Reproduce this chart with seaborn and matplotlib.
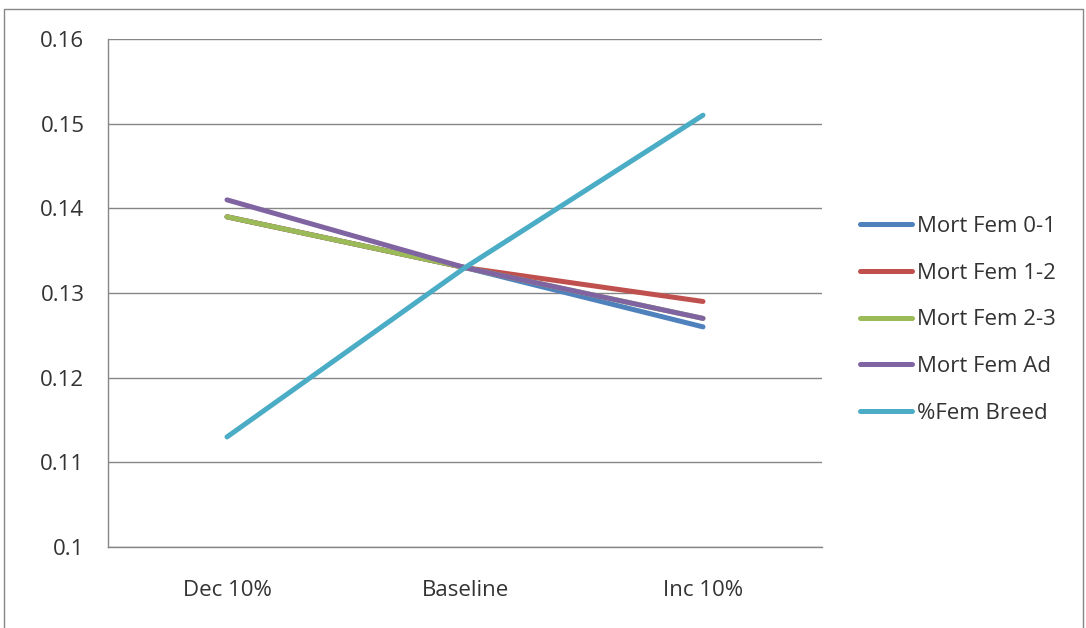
import numpy as np
import pandas as pd
import seaborn as sns
import matplotlib.pyplot as plt
from matplotlib.patches import Rectangle

# Data
scenarios = ['Dec 10%', 'Baseline', 'Inc 10%']
mort_fem_0_1 = [0.139, 0.133, 0.126]
mort_fem_1_2 = [0.139, 0.133, 0.129]
mort_fem_2_3 = [0.139, 0.133, 0.127]
mort_fem_ad = [0.141, 0.133, 0.127]
fem_breed = [0.113, 0.133, 0.151]

series_names = ['Mort Fem 0-1', 'Mort Fem 1-2', 'Mort Fem 2-3', 'Mort Fem Ad', '%Fem Breed']
series_values = [mort_fem_0_1, mort_fem_1_2, mort_fem_2_3, mort_fem_ad, fem_breed]
colors = ['#4F81BD', '#C0504D', '#9BBB59', '#8064A2', '#4BACC6']

rows = []
for name, vals in zip(series_names, series_values):
    for i, v in enumerate(vals):
        rows.append({'x': i, 'scenario': scenarios[i], 'value': v, 'series': name})
df = pd.DataFrame(rows)

sns.set_style("white")
plt.rcParams['font.family'] = ['Open Sans', 'DejaVu Sans']

fig = plt.figure(figsize=(10.86, 6.28), dpi=100)
ax = fig.add_axes([108 / 1086, 1 - 547 / 628, (822 - 108) / 1086, (547 - 39) / 628])

sns.lineplot(data=df, x='x', y='value', hue='series', hue_order=series_names,
             palette=colors, linewidth=3.6, ax=ax, legend='auto')

ax.set_xlim(-0.5, 2.5)
ax.set_ylim(0.1, 0.16)
ax.set_yticks(np.arange(0.10, 0.1601, 0.01))
ax.set_yticklabels(['0.1', '0.11', '0.12', '0.13', '0.14', '0.15', '0.16'])
ax.set_xticks(range(len(scenarios)))
ax.set_xticklabels(scenarios)
ax.set_xticks([-0.5, 0.5, 1.5, 2.5], minor=True)
ax.tick_params(axis='x', which='major', length=0, pad=24, labelsize=16, labelcolor='#333333')
ax.tick_params(axis='x', which='minor', length=6, color='#868686', direction='out')
ax.tick_params(axis='y', length=6, color='#868686', direction='out', pad=11,
               labelsize=16, labelcolor='#333333')
ax.set_xlabel('')
ax.set_ylabel('')
ax.grid(axis='y', color='#868686', linewidth=1)
for side in ['top', 'right']:
    ax.spines[side].set_visible(False)
for side in ['left', 'bottom']:
    ax.spines[side].set_color('#868686')
    ax.spines[side].set_linewidth(1)

leg = ax.legend(loc='center left', bbox_to_anchor=(1.025, 0.447), frameon=False,
                fontsize=16, handlelength=2.35, handletextpad=0.2, labelspacing=1.16)
for t in leg.get_texts():
    t.set_color('#333333')

fig.patches.append(Rectangle((4 / 1086, -0.01), 1079 / 1086, 1 - 9 / 628 + 0.01,
                             transform=fig.transFigure, fill=False,
                             edgecolor='#868686', linewidth=1))

fig.savefig('out.png', dpi=100)
